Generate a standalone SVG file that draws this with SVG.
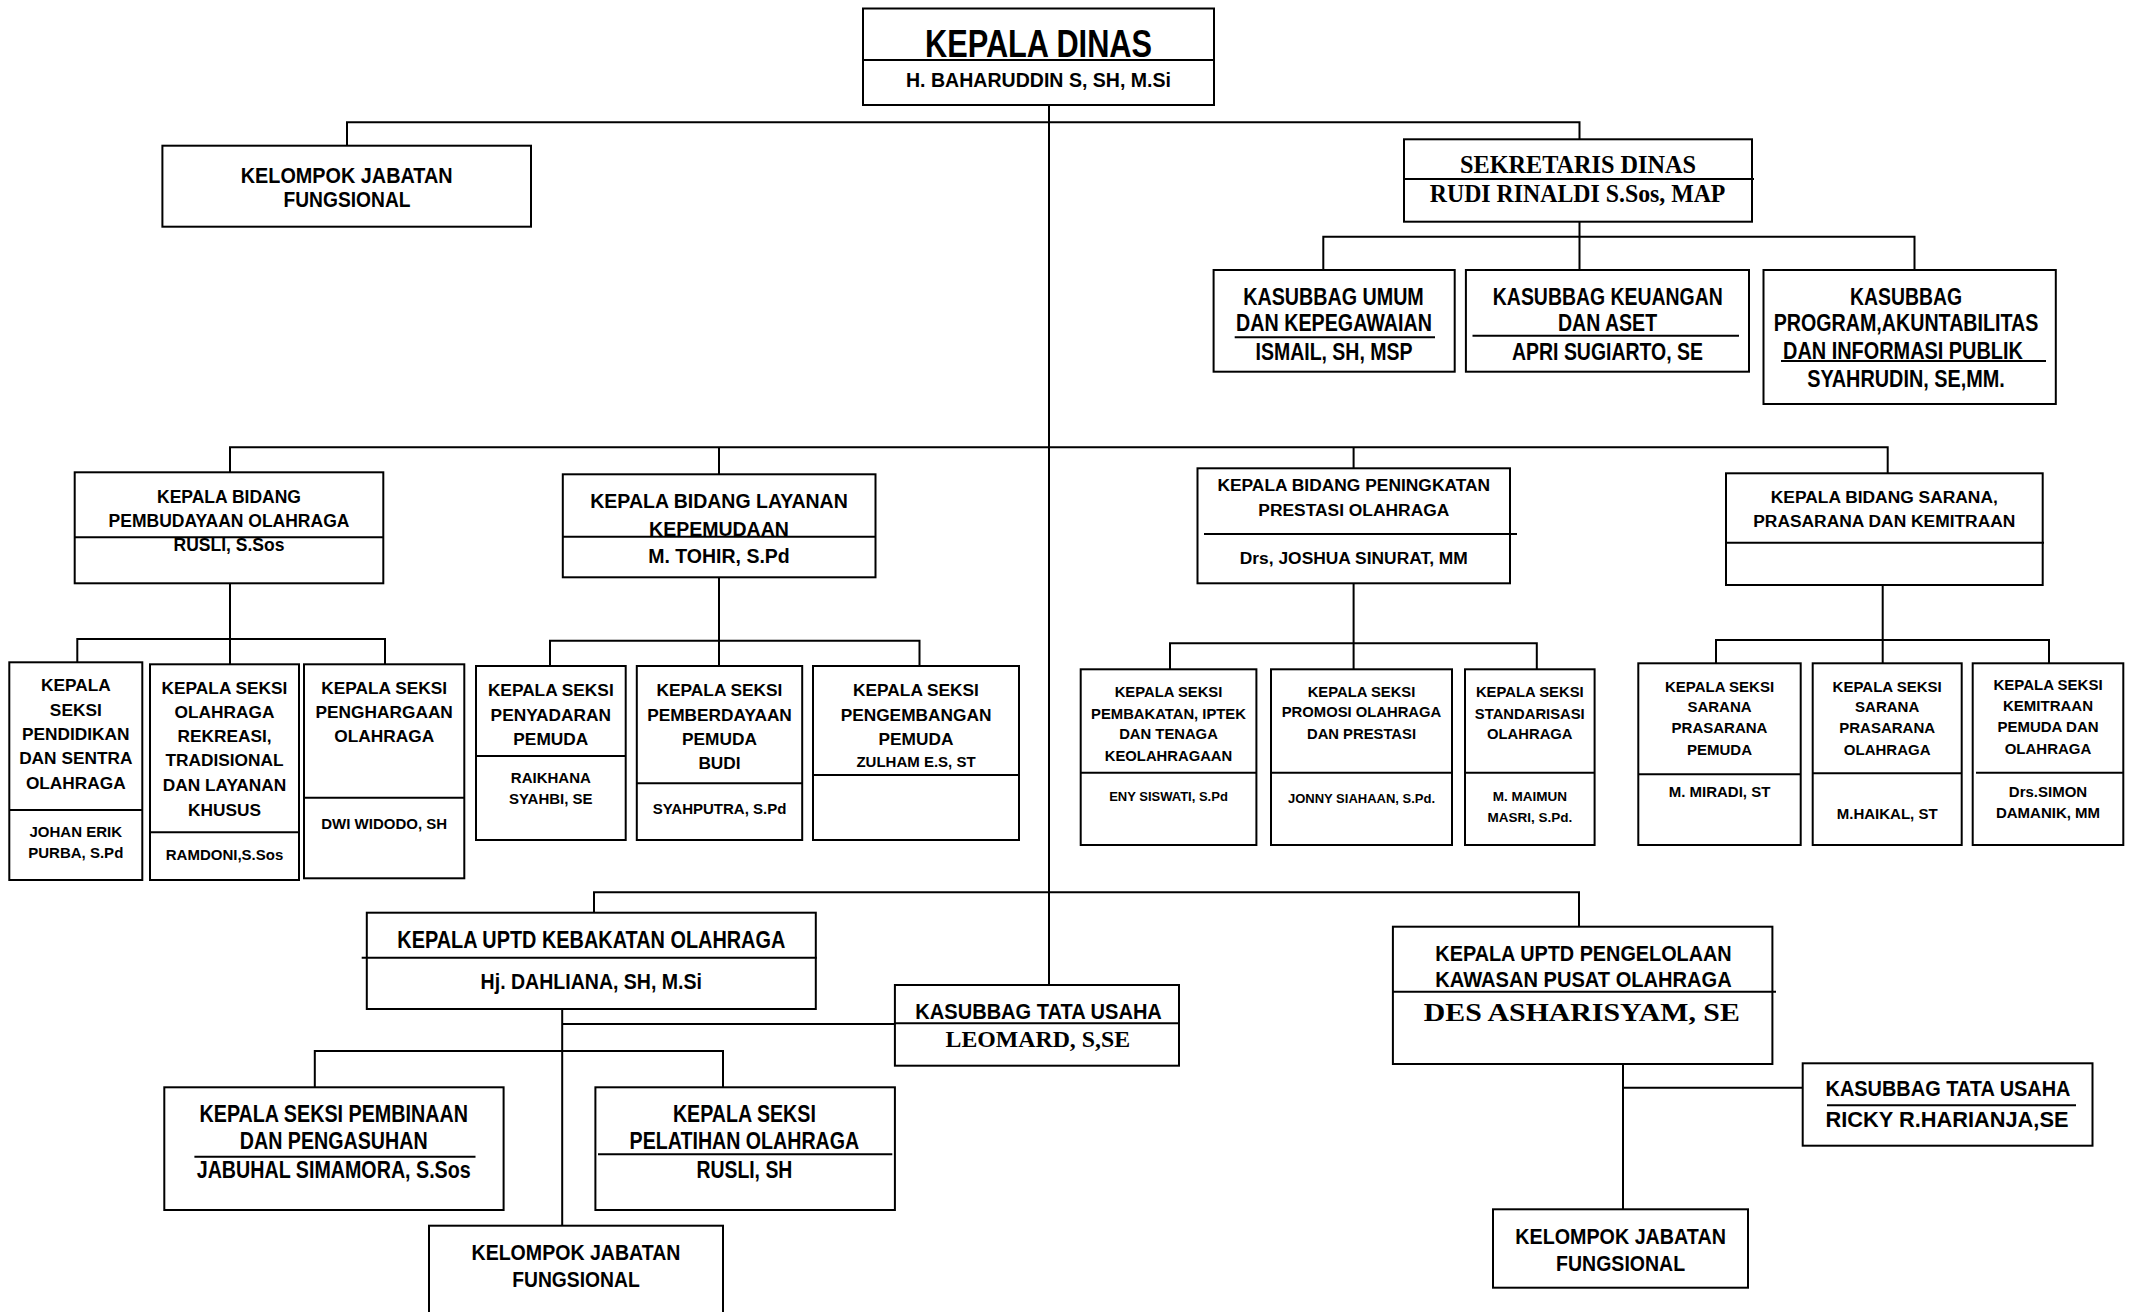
<svg xmlns="http://www.w3.org/2000/svg" width="2130" height="1312" viewBox="0 0 2130 1312">
<style>
.bx{fill:#fff;stroke:#000;stroke-width:2}
.ln{stroke:#000;stroke-width:2;fill:none}
text{font-family:"Liberation Sans",Arial,sans-serif;font-weight:bold;text-anchor:middle;fill:#000}
.s{font-family:"Liberation Serif","Times New Roman",serif}
</style>
<rect width="2130" height="1312" fill="#fff"/>
<g id="connectors">
<path class="ln" d="M1049 105V986"/>
<path class="ln" d="M347 146V122.3H1579.5V139.3"/>
<path class="ln" d="M1579.5 221.7V236.7M1323.3 270V236.7H1914.5V270M1579.5 236.7V270"/>
<path class="ln" d="M230 472.3V447.3H1887.7V473.3M719 447.3V474.3M1353.6 447.3V468.3"/>
<path class="ln" d="M230 583.3V639M77.3 662.3V639H385V664.3M230 639V664.3"/>
<path class="ln" d="M719 577.3V640.7M550 666V640.7H919.5V666M719 640.7V666"/>
<path class="ln" d="M1353.6 583.3V643.3M1170 669.3V643.3H1536.8V669.3M1353.6 643.3V669.3"/>
<path class="ln" d="M1882.7 578.3V640M1716 663.3V640H2049V663.3M1882.7 640V663.3"/>
<path class="ln" d="M594 912.7V892.3H1579V926.7"/>
<path class="ln" d="M562.2 1009V1225.7M562.2 1024H894.9"/>
<path class="ln" d="M314.8 1087.3V1051H723V1087.3"/>
<path class="ln" d="M1623 1064V1209.3M1623 1087.7H1802.7"/>
</g>
<g id="kepala-dinas">
<rect class="bx" x="863" y="8.5" width="351" height="96.5"/>
<path class="ln" d="M863 60H1214"/>
<text x="1038.5" y="56.5" font-size="39" textLength="227" lengthAdjust="spacingAndGlyphs">KEPALA DINAS</text>
<text x="1038.5" y="87.3" font-size="19.5" textLength="265" lengthAdjust="spacingAndGlyphs">H. BAHARUDDIN S, SH, M.Si</text>
</g>
<g id="kjf-top">
<rect class="bx" x="162.4" y="145.7" width="368.6" height="81"/>
<text x="346.7" y="182.7" font-size="22.3" textLength="211.8" lengthAdjust="spacingAndGlyphs">KELOMPOK JABATAN</text>
<text x="347" y="206.7" font-size="22.3" textLength="127" lengthAdjust="spacingAndGlyphs">FUNGSIONAL</text>
</g>
<g id="sekretaris">
<rect class="bx" x="1404" y="139.3" width="348" height="82.4"/>
<path class="ln" d="M1404 179H1754"/>
<text class="s" x="1578" y="173.3" font-size="25" textLength="236" lengthAdjust="spacingAndGlyphs">SEKRETARIS DINAS</text>
<text class="s" x="1577.6" y="201.7" font-size="25" textLength="295.6" lengthAdjust="spacingAndGlyphs">RUDI RINALDI S.Sos, MAP</text>
</g>
<g id="kasubbag-umum">
<rect class="bx" x="1213.6" y="270" width="241.1" height="101.7"/>
<text x="1333.5" y="305" font-size="23" textLength="180.6" lengthAdjust="spacingAndGlyphs">KASUBBAG UMUM</text>
<text x="1334" y="331" font-size="23" textLength="195.8" lengthAdjust="spacingAndGlyphs">DAN KEPEGAWAIAN</text>
<path class="ln" d="M1234.7 337.3H1435"/>
<text x="1334" y="360" font-size="23" textLength="157" lengthAdjust="spacingAndGlyphs">ISMAIL, SH, MSP</text>
</g>
<g id="kasubbag-keuangan">
<rect class="bx" x="1465.9" y="270" width="283.1" height="101.7"/>
<text x="1607.8" y="305" font-size="23" textLength="229.9" lengthAdjust="spacingAndGlyphs">KASUBBAG KEUANGAN</text>
<text x="1607.5" y="331" font-size="23" textLength="99.2" lengthAdjust="spacingAndGlyphs">DAN ASET</text>
<path class="ln" d="M1472.5 335.7H1739"/>
<text x="1607.5" y="360" font-size="23" textLength="191" lengthAdjust="spacingAndGlyphs">APRI SUGIARTO, SE</text>
</g>
<g id="kasubbag-program">
<rect class="bx" x="1763.5" y="270" width="292.3" height="134"/>
<text x="1906" y="305" font-size="23" textLength="112" lengthAdjust="spacingAndGlyphs">KASUBBAG</text>
<text x="1906" y="331" font-size="23" textLength="264.7" lengthAdjust="spacingAndGlyphs">PROGRAM,AKUNTABILITAS</text>
<text x="1903" y="359" font-size="23" textLength="239.8" lengthAdjust="spacingAndGlyphs">DAN INFORMASI PUBLIK</text>
<path class="ln" d="M1781 361H2046"/>
<text x="1906" y="386.6" font-size="23" textLength="197.7" lengthAdjust="spacingAndGlyphs">SYAHRUDIN, SE,MM.</text>
</g>
<g id="bidang-pembudayaan">
<rect class="bx" x="74.7" y="472.3" width="308.6" height="111"/>
<path class="ln" d="M74.7 537.3H383.3"/>
<text x="229" y="502.9" font-size="17.5">KEPALA BIDANG</text>
<text x="229" y="526.9" font-size="17.5">PEMBUDAYAAN OLAHRAGA</text>
<text x="229" y="551.2" font-size="17.5">RUSLI, S.Sos</text>
</g>
<g id="seksi-pendidikan">
<rect class="bx" x="9.3" y="662.3" width="133" height="217.7"/>
<path class="ln" d="M9.3 810H142.3"/>
<text x="75.8" y="691.1" font-size="17.3">KEPALA</text>
<text x="75.8" y="716.1" font-size="17.3">SEKSI</text>
<text x="75.8" y="740.1" font-size="17.3">PENDIDIKAN</text>
<text x="75.8" y="764.4" font-size="17.3">DAN SENTRA</text>
<text x="75.8" y="789.4" font-size="17.3">OLAHRAGA</text>
<text x="75.8" y="837.1" font-size="15">JOHAN ERIK</text>
<text x="75.8" y="858.1" font-size="15">PURBA, S.Pd</text>
</g>
<g id="seksi-rekreasi">
<rect class="bx" x="150" y="664.3" width="149" height="215.7"/>
<path class="ln" d="M150 832.3H299"/>
<text x="224.5" y="693.5" font-size="17.3">KEPALA SEKSI</text>
<text x="224.5" y="717.9" font-size="17.3">OLAHRAGA</text>
<text x="224.5" y="742.2" font-size="17.3">REKREASI,</text>
<text x="224.5" y="766.2" font-size="17.3">TRADISIONAL</text>
<text x="224.5" y="791.2" font-size="17.3">DAN LAYANAN</text>
<text x="224.5" y="815.5" font-size="17.3">KHUSUS</text>
<text x="224.5" y="860.4" font-size="15">RAMDONI,S.Sos</text>
</g>
<g id="seksi-penghargaan">
<rect class="bx" x="304" y="664.3" width="160.3" height="214"/>
<path class="ln" d="M304 797.7H464.3"/>
<text x="384.2" y="693.5" font-size="17.3">KEPALA SEKSI</text>
<text x="384.2" y="717.9" font-size="17.3">PENGHARGAAN</text>
<text x="384.2" y="742.2" font-size="17.3">OLAHRAGA</text>
<text x="384.2" y="828.7" font-size="15">DWI WIDODO, SH</text>
</g>
<g id="bidang-kepemudaan">
<rect class="bx" x="562.8" y="474.3" width="312.7" height="103"/>
<path class="ln" d="M562.8 536.7H875.5"/>
<text x="719" y="508.3" font-size="19.5">KEPALA BIDANG LAYANAN</text>
<text x="719" y="535.5" font-size="19.5">KEPEMUDAAN</text>
<text x="719" y="563.3" font-size="19.5">M. TOHIR, S.Pd</text>
</g>
<g id="seksi-penyadaran">
<rect class="bx" x="476" y="666" width="149.7" height="174"/>
<path class="ln" d="M476 756H625.7"/>
<text x="550.8" y="695.5" font-size="17.3">KEPALA SEKSI</text>
<text x="550.8" y="720.5" font-size="17.3">PENYADARAN</text>
<text x="550.8" y="744.5" font-size="17.3">PEMUDA</text>
<text x="550.8" y="782.7" font-size="15">RAIKHANA</text>
<text x="550.8" y="803.7" font-size="15">SYAHBI, SE</text>
</g>
<g id="seksi-pemberdayaan">
<rect class="bx" x="636.8" y="666" width="165.4" height="174"/>
<path class="ln" d="M636.8 783.3H802.2"/>
<text x="719.5" y="695.5" font-size="17.3">KEPALA SEKSI</text>
<text x="719.5" y="720.5" font-size="17.3">PEMBERDAYAAN</text>
<text x="719.5" y="744.5" font-size="17.3">PEMUDA</text>
<text x="719.5" y="768.9" font-size="17.3">BUDI</text>
<text x="719.5" y="813.7" font-size="15">SYAHPUTRA, S.Pd</text>
</g>
<g id="seksi-pengembangan">
<rect class="bx" x="813" y="666" width="206" height="174"/>
<path class="ln" d="M813 775H1019"/>
<text x="916" y="695.5" font-size="17.3">KEPALA SEKSI</text>
<text x="916" y="720.5" font-size="17.3">PENGEMBANGAN</text>
<text x="916" y="744.5" font-size="17.3">PEMUDA</text>
<text x="916" y="767.1" font-size="15">ZULHAM E.S, ST</text>
</g>
<g id="bidang-prestasi">
<rect class="bx" x="1197.5" y="468.3" width="312.5" height="115"/>
<path class="ln" d="M1204 534H1517"/>
<text x="1353.8" y="491.2" font-size="17.4">KEPALA BIDANG PENINGKATAN</text>
<text x="1353.8" y="515.5" font-size="17.4">PRESTASI OLAHRAGA</text>
<text x="1353.8" y="563.5" font-size="17.4">Drs, JOSHUA SINURAT, MM</text>
</g>
<g id="seksi-pembakatan">
<rect class="bx" x="1080.7" y="669.3" width="175.7" height="175.7"/>
<path class="ln" d="M1080.7 772.7H1256.4"/>
<text x="1168.5" y="697" font-size="14.8">KEPALA SEKSI</text>
<text x="1168.5" y="718.6" font-size="14.8">PEMBAKATAN, IPTEK</text>
<text x="1168.5" y="738.6" font-size="14.8">DAN TENAGA</text>
<text x="1168.5" y="761.3" font-size="14.8">KEOLAHRAGAAN</text>
<text x="1168.5" y="801.4" font-size="13">ENY SISWATI, S.Pd</text>
</g>
<g id="seksi-promosi">
<rect class="bx" x="1271" y="669.3" width="181" height="175.7"/>
<path class="ln" d="M1271 772.7H1452"/>
<text x="1361.5" y="697" font-size="14.8">KEPALA SEKSI</text>
<text x="1361.5" y="717" font-size="14.8">PROMOSI OLAHRAGA</text>
<text x="1361.5" y="738.6" font-size="14.8">DAN PRESTASI</text>
<text x="1361.5" y="803" font-size="13">JONNY SIAHAAN, S.Pd.</text>
</g>
<g id="seksi-standarisasi">
<rect class="bx" x="1465" y="669.3" width="129.6" height="175.7"/>
<path class="ln" d="M1465 772.7H1594.6"/>
<text x="1529.8" y="697" font-size="14.8">KEPALA SEKSI</text>
<text x="1529.8" y="718.6" font-size="14.8">STANDARISASI</text>
<text x="1529.8" y="738.6" font-size="14.8">OLAHRAGA</text>
<text x="1529.8" y="801.4" font-size="13.5">M. MAIMUN</text>
<text x="1529.8" y="822" font-size="13.5">MASRI, S.Pd.</text>
</g>
<g id="bidang-sarana">
<rect class="bx" x="1726" y="473.3" width="316.7" height="111.7"/>
<path class="ln" d="M1726 542.7H2044"/>
<text x="1884.3" y="502.8" font-size="17.4">KEPALA BIDANG SARANA,</text>
<text x="1884.3" y="527.1" font-size="17.4">PRASARANA DAN KEMITRAAN</text>
</g>
<g id="seksi-sarana-pemuda">
<rect class="bx" x="1638.3" y="663.3" width="162.4" height="181.7"/>
<path class="ln" d="M1638.3 774.3H1800.7"/>
<text x="1719.5" y="692" font-size="15">KEPALA SEKSI</text>
<text x="1719.5" y="712" font-size="15">SARANA</text>
<text x="1719.5" y="733" font-size="15">PRASARANA</text>
<text x="1719.5" y="754.6" font-size="15">PEMUDA</text>
<text x="1719.5" y="797" font-size="15">M. MIRADI, ST</text>
</g>
<g id="seksi-sarana-olahraga">
<rect class="bx" x="1812.7" y="663.3" width="149" height="181.7"/>
<path class="ln" d="M1812.7 773.3H1961.7"/>
<text x="1887.2" y="692" font-size="15">KEPALA SEKSI</text>
<text x="1887.2" y="712" font-size="15">SARANA</text>
<text x="1887.2" y="733" font-size="15">PRASARANA</text>
<text x="1887.2" y="754.6" font-size="15">OLAHRAGA</text>
<text x="1887.2" y="818.6" font-size="15">M.HAIKAL, ST</text>
</g>
<g id="seksi-kemitraan">
<rect class="bx" x="1972.7" y="663.3" width="150.6" height="181.7"/>
<path class="ln" d="M1976 772.7H2123.3"/>
<text x="2048" y="690.3" font-size="15">KEPALA SEKSI</text>
<text x="2048" y="711.3" font-size="15">KEMITRAAN</text>
<text x="2048" y="732" font-size="15">PEMUDA DAN</text>
<text x="2048" y="753.6" font-size="15">OLAHRAGA</text>
<text x="2048" y="797" font-size="15">Drs.SIMON</text>
<text x="2048" y="818" font-size="15">DAMANIK, MM</text>
</g>
<g id="uptd-kebakatan">
<rect class="bx" x="366.8" y="912.7" width="449" height="96.3"/>
<path class="ln" d="M361.7 957.7H816.8"/>
<text x="591.3" y="947.5" font-size="23" textLength="388" lengthAdjust="spacingAndGlyphs">KEPALA UPTD KEBAKATAN OLAHRAGA</text>
<text x="591.3" y="988.5" font-size="22" textLength="221.4" lengthAdjust="spacingAndGlyphs">Hj. DAHLIANA, SH, M.Si</text>
</g>
<g id="seksi-pembinaan">
<rect class="bx" x="164.3" y="1087.3" width="339.3" height="122.7"/>
<text x="333.7" y="1121.5" font-size="23" textLength="268.4" lengthAdjust="spacingAndGlyphs">KEPALA SEKSI PEMBINAAN</text>
<text x="333.7" y="1149" font-size="23" textLength="187.8" lengthAdjust="spacingAndGlyphs">DAN PENGASUHAN</text>
<path class="ln" d="M194.4 1156.7H475.5"/>
<text x="333.7" y="1177.5" font-size="23" textLength="274" lengthAdjust="spacingAndGlyphs">JABUHAL SIMAMORA, S.Sos</text>
</g>
<g id="seksi-pelatihan">
<rect class="bx" x="595.4" y="1087.3" width="299.5" height="122.7"/>
<text x="744.4" y="1121.5" font-size="23" textLength="142.9" lengthAdjust="spacingAndGlyphs">KEPALA SEKSI</text>
<text x="744.4" y="1149" font-size="23" textLength="229.6" lengthAdjust="spacingAndGlyphs">PELATIHAN OLAHRAGA</text>
<path class="ln" d="M598 1154.3H892.3"/>
<text x="744.4" y="1177.5" font-size="23" textLength="95.9" lengthAdjust="spacingAndGlyphs">RUSLI, SH</text>
</g>
<g id="kjf-uptd-kebakatan">
<rect class="bx" x="429" y="1225.7" width="294" height="100"/>
<text x="576" y="1260" font-size="22.3" textLength="209" lengthAdjust="spacingAndGlyphs">KELOMPOK JABATAN</text>
<text x="576" y="1286.5" font-size="22.3" textLength="127.6" lengthAdjust="spacingAndGlyphs">FUNGSIONAL</text>
</g>
<g id="kasubbag-tu">
<rect class="bx" x="894.9" y="985" width="284.1" height="80.7"/>
<path class="ln" d="M894.9 1023.3H1179"/>
<text x="1038.6" y="1018.7" font-size="22" textLength="246.5" lengthAdjust="spacingAndGlyphs">KASUBBAG TATA USAHA</text>
<text class="s" x="1037.8" y="1046.7" font-size="22.6" textLength="184.5" lengthAdjust="spacingAndGlyphs">LEOMARD, S,SE</text>
</g>
<g id="uptd-pengelolaan">
<rect class="bx" x="1392.9" y="926.7" width="379.5" height="137.3"/>
<path class="ln" d="M1392.9 991.7H1776"/>
<text x="1583.5" y="960.7" font-size="22" textLength="296.3" lengthAdjust="spacingAndGlyphs">KEPALA UPTD PENGELOLAAN</text>
<text x="1583.5" y="987.3" font-size="22" textLength="296.3" lengthAdjust="spacingAndGlyphs">KAWASAN PUSAT OLAHRAGA</text>
<text class="s" x="1581.8" y="1020.7" font-size="26" textLength="316" lengthAdjust="spacingAndGlyphs">DES ASHARISYAM, SE</text>
</g>
<g id="kasubbag-tu-uptd">
<rect class="bx" x="1802.7" y="1063.3" width="289.8" height="82.4"/>
<text x="1948" y="1096.3" font-size="22" textLength="245" lengthAdjust="spacingAndGlyphs">KASUBBAG TATA USAHA</text>
<path class="ln" d="M1827 1105.3H2076"/>
<text x="1947" y="1127.3" font-size="22" textLength="243" lengthAdjust="spacingAndGlyphs">RICKY R.HARIANJA,SE</text>
</g>
<g id="kjf-uptd-pengelolaan">
<rect class="bx" x="1493" y="1209.3" width="255" height="78.4"/>
<text x="1620.6" y="1244" font-size="22.3" textLength="210.6" lengthAdjust="spacingAndGlyphs">KELOMPOK JABATAN</text>
<text x="1620.6" y="1270.7" font-size="22.3" textLength="129" lengthAdjust="spacingAndGlyphs">FUNGSIONAL</text>
</g>
</svg>
